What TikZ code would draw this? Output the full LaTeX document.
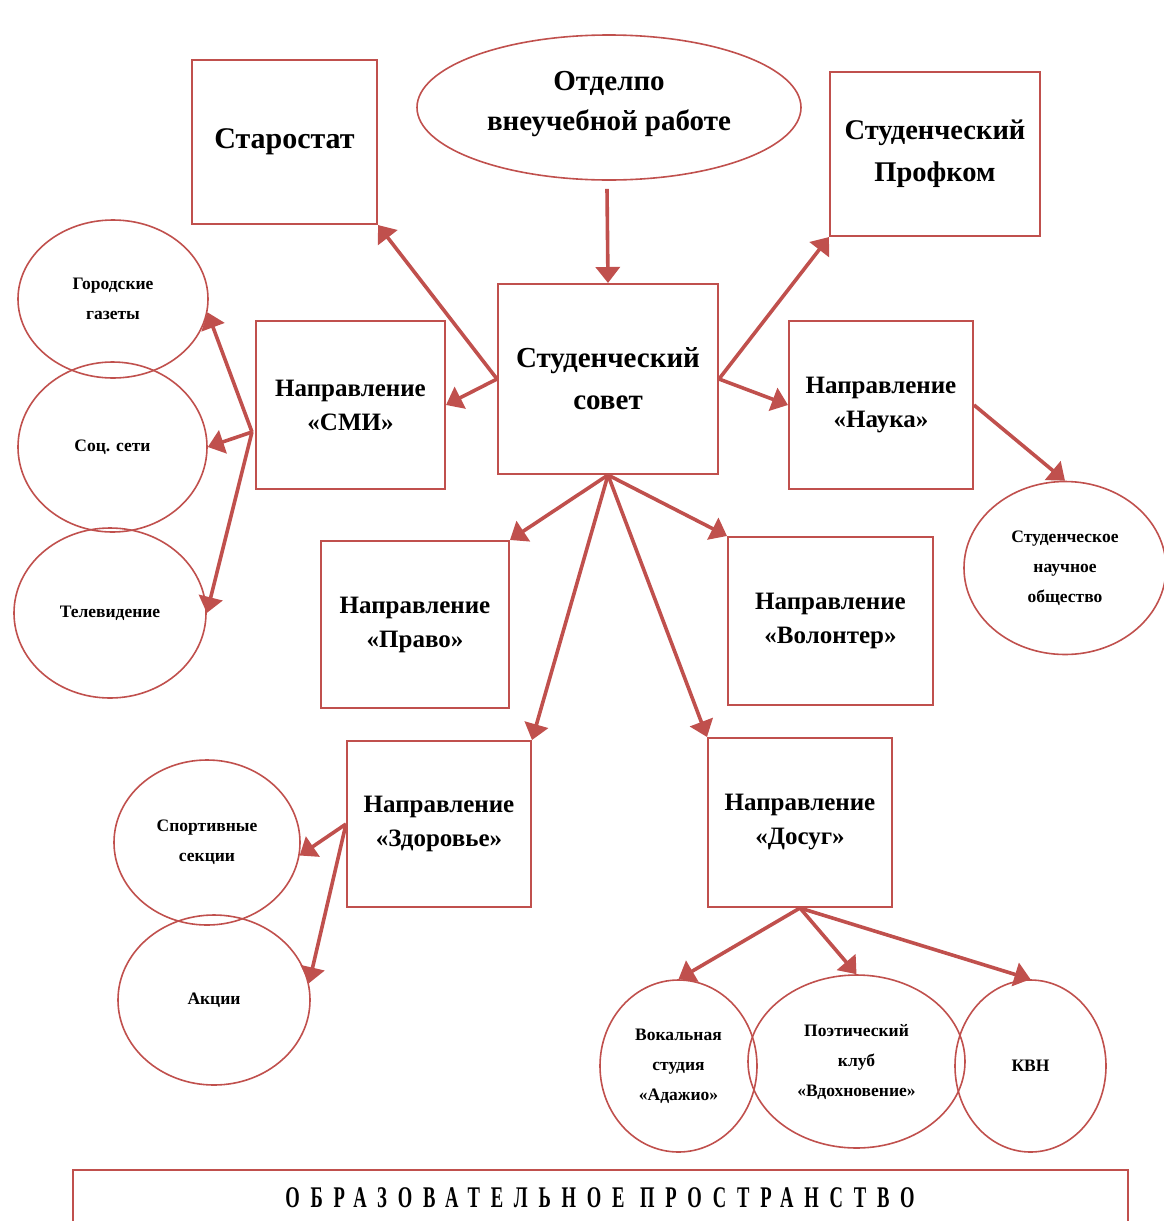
\documentclass[tikz,border=0pt]{standalone}
\usepackage{fontspec}
\setmainfont{Liberation Serif}
\newfontfamily\widecaps[FakeStretch=0.62,LetterSpace=36]{Liberation Serif}
\usetikzlibrary{arrows.meta,shapes.geometric,calc}
\definecolor{rd}{HTML}{C0504D}
\tikzset{
  box/.style={draw=rd, line width=2pt, rectangle, align=center, inner sep=2pt,
    font=\bfseries\fontsize{25}{34}\selectfont},
  oval/.style={draw=rd, line width=1.6pt, ellipse, align=center, inner sep=0pt,
    font=\bfseries\fontsize{17.5}{30}\selectfont},
  arr/.style={draw=rd, line width=3.6pt, -{Triangle[length=16pt,width=24pt]}}
}
\begin{document}
\begin{tikzpicture}[x=1pt,y=-1pt]
\useasboundingbox (0,0) rectangle (1163,1221);
% main boxes
\node[box, minimum width=185, minimum height=164, font=\bfseries\fontsize{30}{40}\selectfont] (star) at (284.5,142) {Старостат};
\node[oval, minimum width=384, minimum height=145, font=\bfseries\fontsize{29}{40}\selectfont] (otdel) at (609,107.5)
  {\raisebox{-1.5pt}[0pt][0pt]{\begin{tabular}{@{}c@{}}Отделпо\\внеучебной работе\end{tabular}}};
\node[box, minimum width=210, minimum height=164, font=\bfseries\fontsize{28.5}{42}\selectfont] (prof) at (935,154) {Студенческий\\Профком};
\node[box, minimum width=220, minimum height=190, font=\bfseries\fontsize{29}{42}\selectfont] (sovet) at (608,379) {Студенческий\\совет};
\node[box, minimum width=189, minimum height=168] (smi) at (350.5,405) {Направление\\«СМИ»};
\node[box, minimum width=184, minimum height=168] (nauka) at (881,405) {Направление\\«Наука»};
\node[box, minimum width=188, minimum height=167] (pravo) at (415,624.5) {Направление\\«Право»};
\node[box, minimum width=205, minimum height=168] (volont) at (830.5,621) {Направление\\«Волонтер»};
\node[box, minimum width=184, minimum height=166] (zdor) at (439,824) {Направление\\«Здоровье»};
\node[box, minimum width=184, minimum height=169] (dosug) at (800,822.5) {Направление\\«Досуг»};
% ovals
\node[oval, minimum width=190, minimum height=158] (gaz) at (113,299) {Городские\\газеты};
\node[oval, minimum width=189, minimum height=170] (soc) at (112.5,447) {Соц. сети};
\node[oval, minimum width=192, minimum height=170] (tv) at (110,613) {Телевидение};
\node[oval, minimum width=202, minimum height=173] (sno) at (1065,568) {Студенческое\\научное\\общество};
\node[oval, minimum width=186, minimum height=165] (sport) at (207,842.5) {Спортивные\\секции};
\node[oval, minimum width=192, minimum height=170] (akc) at (214,1000) {Акции};
\node[oval, minimum width=157, minimum height=172] (vok) at (678.5,1066) {Вокальная\\студия\\«Адажио»};
\node[oval, minimum width=217, minimum height=173] (poet) at (856.5,1061.5) {Поэтический\\клуб\\«Вдохновение»};
\node[oval, minimum width=151, minimum height=172] (kvn) at (1030.5,1066) {КВН};
% bottom frame
\draw[draw=rd, line width=2.2pt] (73,1240) -- (73,1170) coordinate (bl) -- (1128,1170) coordinate (br) -- (1128,1240);
\node[font=\widecaps\bfseries\fontsize{30}{30}\selectfont, inner sep=0pt] (obr) at (600,1198) {ОБРАЗОВАТЕЛЬНОЕ ПРОСТРАНСТВО};
% arrows
\draw[arr] ($(otdel.south)+(-2,8)$) -- (sovet.north);
\draw[arr] (sovet.west) -- (star.south east);
\draw[arr] (sovet.east) -- (prof.south west);
\draw[arr] (sovet.west) -- (smi.east);
\draw[arr] (sovet.east) -- (nauka.west);
\draw[arr] (sovet.south) -- (pravo.north east);
\draw[arr] (sovet.south) -- (volont.north west);
\draw[arr] (sovet.south) -- (zdor.north east);
\draw[arr] (sovet.south) -- (dosug.north west);
\coordinate (smiout) at ($(smi.west)+(-3,27)$);
\draw[arr] (smiout) -- (gaz.-8);
\draw[arr] (smiout) -- (soc.east);
\draw[arr] (smiout) -- (tv.east);
\draw[arr] (nauka.east) -- (sno.north);
\draw[arr] (zdor.west) -- (sport.-8);
\draw[arr] (zdor.west) -- (akc.10);
\draw[arr] (dosug.south) -- (vok.north);
\draw[arr] (dosug.south) -- (poet.north);
\draw[arr] (dosug.south) -- (kvn.north);
\end{tikzpicture}
\end{document}
